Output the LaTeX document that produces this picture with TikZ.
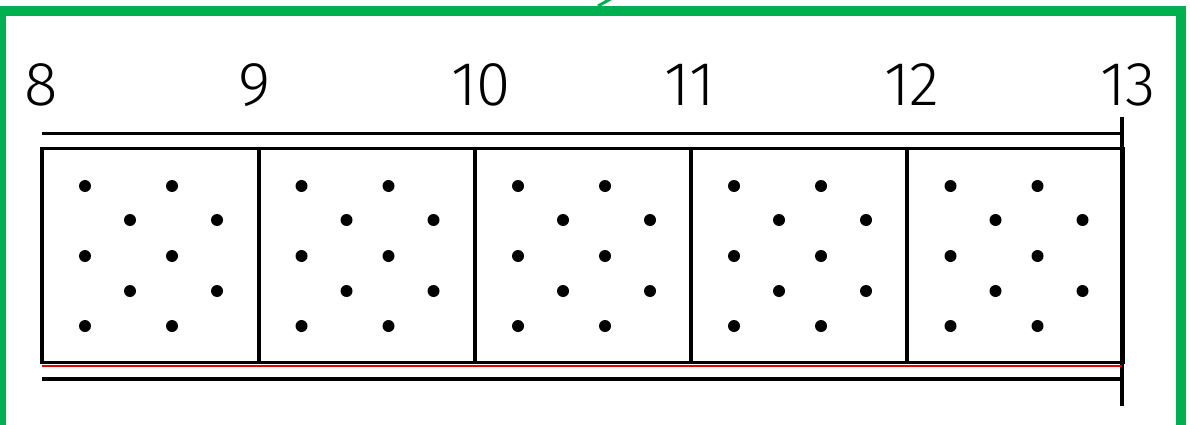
\documentclass[tikz,border=0pt]{standalone}
\usepackage{fontspec}
\newfontfamily\numfont{Fira Sans Light}
\definecolor{frame}{RGB}{0,176,80}
\tikzset{
  ln/.style={line width=3.4pt, black},
  redln/.style={line width=1.4pt, red!90!black},
  dot/.style={circle, fill=black, inner sep=0pt, minimum size=12pt},
  lbl/.style={anchor=base, inner sep=0pt, font=\numfont\fontsize{62}{62}\selectfont},
  frm/.style={line width=10.5pt, frame}
}
\begin{document}
\begin{tikzpicture}[x=1pt,y=-1pt]
\useasboundingbox (0,0) rectangle (1190,425);
\begin{scope}
\clip (0,0) rectangle (1190,425);
\draw[frm] (1,11) rectangle (1181,431);
\draw[frame, line width=3pt] (614,-3) -- (598,6);
\end{scope}
% labels
\node[lbl] (l8) at (41,106) {8};
\node[lbl] (l9) at (255,106) {9};
\node[lbl] (l10) at (481,106) {10};
\node[lbl] (l11) at (690,106) {11};
\node[lbl] (l12) at (912,106) {12};
\node[lbl] (l13) at (1128,106) {13};
% lines
\draw[ln] (42,133.5) -- (1122,133.5);
\draw[ln] (1122,117) -- (1122,406);
\draw[redln] (42,366) -- (1122,366);
\draw[ln] (42,379) -- (1122,379);
\draw[ln] (42,148.5) rectangle (1123.5,362.5);
\foreach \x in {259,475,691,907}{\draw[ln] (\x,148.5) -- (\x,362.5);}
% dots
\foreach \c in {42,258.5,475,691,907.5}{
  \foreach \y in {186,256,326}{
    \node[dot] at (\c+43,\y) {};
    \node[dot] at (\c+130,\y) {};
  }
  \foreach \y in {220,291}{
    \node[dot] at (\c+88,\y) {};
    \node[dot] at (\c+175,\y) {};
  }
}
\end{tikzpicture}
\end{document}
